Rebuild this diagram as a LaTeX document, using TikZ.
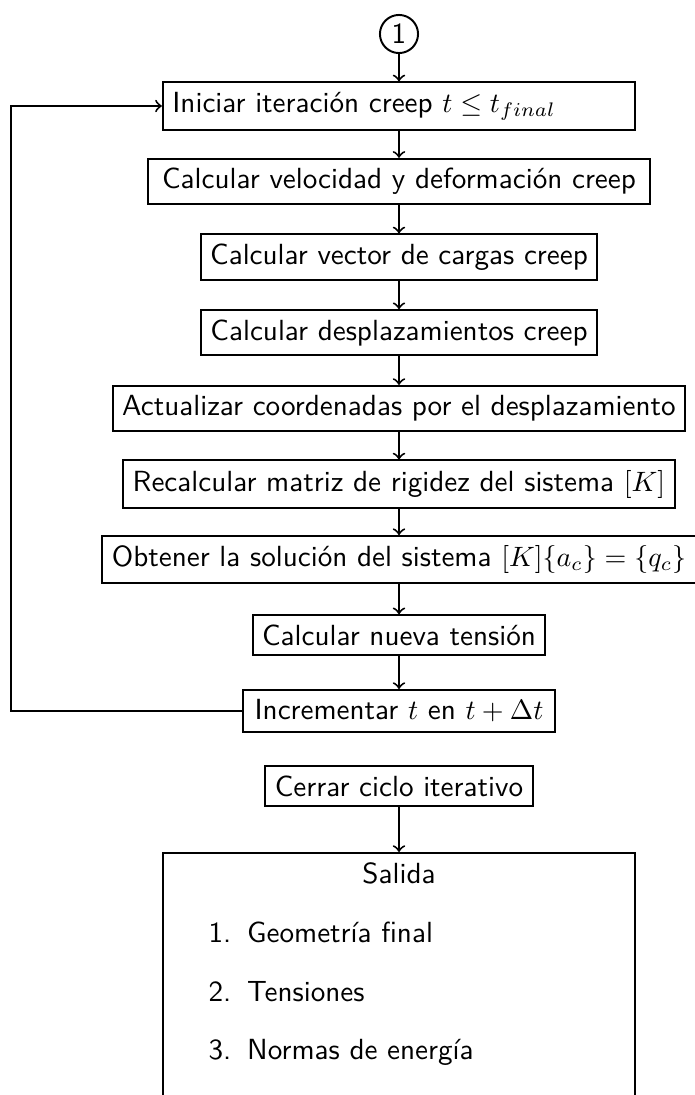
\documentclass[tikz,border=0pt]{standalone}
\usetikzlibrary{positioning}
\begin{document}
\begin{tikzpicture}[x=0.357pt,y=-0.357pt,
  font=\sffamily\fontsize{10.4}{12.5}\selectfont,
  stepbox/.style={draw, line width=0.7pt, inner sep=3.4pt},
  conn/.style={->, line width=0.7pt},
  lineonly/.style={line width=0.7pt}]
\useasboundingbox (0,0) rectangle (695,1095);
\node[draw, circle, line width=0.7pt, inner sep=1pt, minimum size=13.6pt] (c1) at (399,34) {1};
\node[stepbox, text width=161.8pt, align=left] (b1) at (399,106) {Iniciar iteración creep $t \leq t_{final}$};
\node[stepbox, minimum width=179.3pt] (b2) at (399,181.6) {Calcular velocidad y deformación creep};
\node[stepbox] (b3) at (399,257.2) {Calcular vector de cargas creep};
\node[stepbox] (b4) at (399,332.8) {Calcular desplazamientos creep};
\node[stepbox, minimum width=204.3pt] (b5) at (399,408.4) {Actualizar coordenadas por el desplazamiento};
\node[stepbox, minimum width=197.1pt] (b6) at (399,484) {Recalcular matriz de rigidez del sistema $[K]$};
\node[stepbox] (b7) at (399,559.6) {Obtener la solución del sistema $[K]\{a_c\} = \{q_c\}$};
\node[stepbox] (b8) at (399,635.2) {Calcular nueva tensión};
\node[stepbox, minimum width=111.4pt] (b9) at (399,710.8) {Incrementar $t$ en $t + \Delta t$};
\node[stepbox, minimum width=95.7pt] (b10) at (399,786.4) {Cerrar ciclo iterativo};
\node[draw, line width=0.7pt, anchor=north, minimum width=168.6pt, minimum height=100pt, inner sep=0pt] (sal) at (399,852) {};
\node (saltitle) at (399,873) {Salida};
\node[anchor=west, inner sep=0pt] (it1) at (208,932) {\makebox[13.8pt][l]{1.}Geometría final};
\node[anchor=west, inner sep=0pt] (it2) at (208,992) {\makebox[13.8pt][l]{2.}Tensiones};
\node[anchor=west, inner sep=0pt] (it3) at (208,1052) {\makebox[13.8pt][l]{3.}Normas de energía};
\coordinate (lb) at (11,710.8);
\coordinate (lt) at (11,106);
\draw[conn] (c1) -- (b1);
\draw[conn] (b1) -- (b2);
\draw[conn] (b2) -- (b3);
\draw[conn] (b3) -- (b4);
\draw[conn] (b4) -- (b5);
\draw[conn] (b5) -- (b6);
\draw[conn] (b6) -- (b7);
\draw[conn] (b7) -- (b8);
\draw[conn] (b8) -- (b9);
\draw[conn] (b9.west) -- (lb) -- (lt) -- (b1.west);
\draw[conn] (b10) -- (sal);
\end{tikzpicture}
\end{document}
